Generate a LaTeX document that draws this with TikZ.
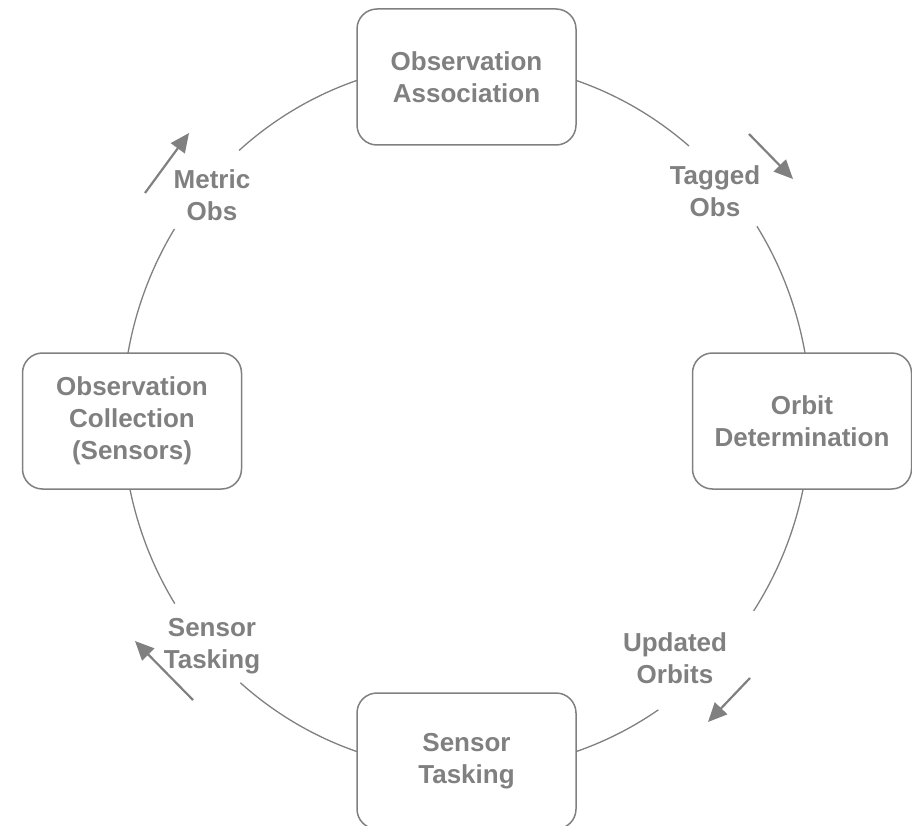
\documentclass[tikz,border=0pt]{standalone}
\usepackage{fontspec}
\setmainfont{Liberation Sans}
\usetikzlibrary{arrows.meta,backgrounds}
\definecolor{lg}{RGB}{128,128,128}
\begin{document}
\begin{tikzpicture}[x=1pt,y=-1pt,
  box/.style={draw=lg, line width=1.5pt, fill=white, rounded corners=20pt,
    minimum width=219pt, minimum height=136pt, align=center, text=lg,
    font=\fontsize{26}{32}\selectfont\bfseries, inner sep=0pt},
  lbl/.style={align=center, text=lg, font=\fontsize{26}{32}\selectfont\bfseries, inner sep=0pt},
  ring/.style={draw=lg, line width=1.3pt},
  flow/.style={draw=lg, line width=2.2pt, -{Triangle[length=19pt,width=17pt]}}]
\useasboundingbox (0,0) rectangle (912,826);
% process boxes
\node[box] (oa) at (466.5,77) {Observation\\Association};
\node[box] (od) at (802,421) {Orbit\\Determination};
\node[box] (st) at (466.5,761) {Sensor\\Tasking};
\node[box] (oc) at (132,421) {Observation\\Collection\\(Sensors)};
% labels
\node[lbl] (tobs) at (715,191) {Tagged\\Obs};
\node[lbl] (uorb) at (675,658) {Updated\\Orbits};
\node[lbl] (stk) at (212,646) {Sensor\\Tasking};
\node[lbl] (mobs) at (212,195) {Metric\\Obs};
% ring arcs behind the boxes
\begin{pgfonlayer}{background}
\draw[ring] ({466.5+344*cos(49.7)},{416-354*sin(49.7)})
  arc[start angle=49.7, end angle=131.4, x radius=344pt, y radius=354pt];
\draw[ring] ({466.5+344*cos(-33.4)},{416-354*sin(-33.4)})
  arc[start angle=-33.4, end angle=32.4, x radius=344pt, y radius=354pt];
\draw[ring] ({466.5+344*cos(-131.1)},{416-354*sin(-131.1)})
  arc[start angle=-131.1, end angle=-56.1, x radius=344pt, y radius=354pt];
\draw[ring] ({466.5+344*cos(148.1)},{416-354*sin(148.1)})
  arc[start angle=148.1, end angle=212, x radius=344pt, y radius=354pt];
\end{pgfonlayer}
% direction arrows
\coordinate (a1s) at (749,134); \coordinate (a1e) at (793,179);
\coordinate (a2s) at (750,678); \coordinate (a2e) at (708,722);
\coordinate (a3s) at (193,700); \coordinate (a3e) at (135,641);
\coordinate (a4s) at (145,193); \coordinate (a4e) at (189,133);
\draw[flow] (a1s) -- (a1e);
\draw[flow] (a2s) -- (a2e);
\draw[flow] (a3s) -- (a3e);
\draw[flow] (a4s) -- (a4e);
\end{tikzpicture}
\end{document}
